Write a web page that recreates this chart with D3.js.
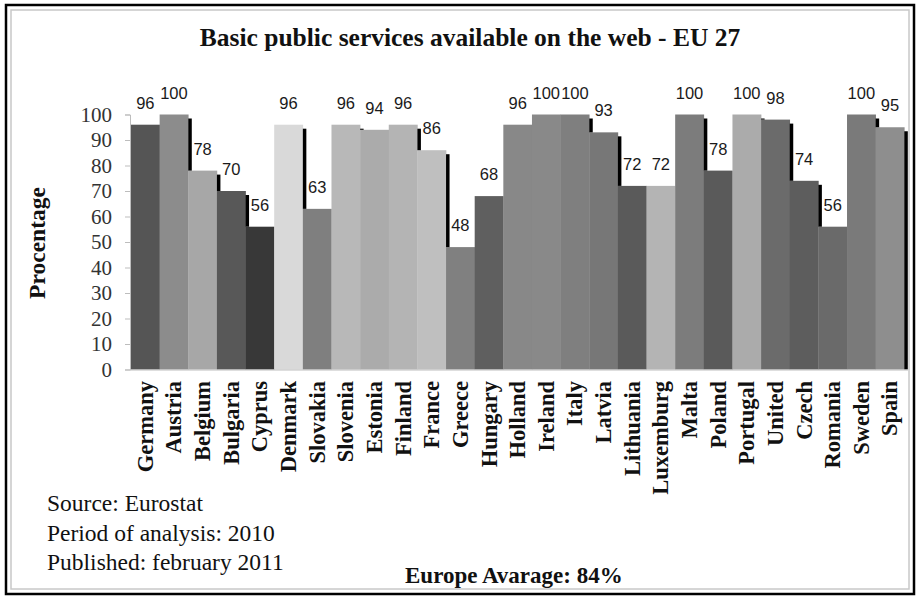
<!DOCTYPE html>
<html><head><meta charset="utf-8">
<script src="https://cdn.jsdelivr.net/npm/d3@7/dist/d3.min.js"></script>
<style>html,body{margin:0;padding:0;background:#fff;}svg{display:block;}</style>
</head><body>
<svg id="chart" width="920" height="599"></svg>
<script>
const categories = ["Germany","Austria","Belgium","Bulgaria","Cyprus","Denmark","Slovakia","Slovenia","Estonia","Finland","France","Greece","Hungary","Holland","Ireland","Italy","Latvia","Lithuania","Luxemburg","Malta","Poland","Portugal","United","Czech","Romania","Sweden","Spain"];
const values = [96,100,78,70,56,96,63,96,94,96,86,48,68,96,100,100,93,72,72,100,78,100,98,74,56,100,95];
const barColors = ["#555555","#8c8c8c","#a7a7a7","#585858","#383838","#d9d9d9","#7f7f7f","#b8b8b8","#ababab","#b4b4b4","#bfbfbf","#808080","#5f5f5f","#888888","#898989","#7f7f7f","#777777","#5a5a5a","#b4b4b4","#7c7c7c","#5a5a5a","#ababab","#6b6b6b","#5d5d5d","#6a6a6a","#7a7a7a","#8e8e8e"];
const yTicks = [0,10,20,30,40,50,60,70,80,90,100];
const titleText = "Basic public services available on the web - EU 27";
const yTitle = "Procentage";
const notes = ["Source: Eurostat","Period of analysis: 2010","Published: february 2011"];
const footer = "Europe Avarage: 84%";

const svg = d3.select("#chart");
const serif = "'Liberation Serif','Times New Roman',serif";
const sans = "'Liberation Sans',Arial,sans-serif";

// frame
svg.append("rect").attr("x",6).attr("y",5).attr("width",908).attr("height",589)
  .attr("fill","#fff").attr("stroke","#000").attr("stroke-width",2.5);
svg.append("rect").attr("x",11).attr("y",10).attr("width",898).attr("height",579)
  .attr("fill","none").attr("stroke","#c8c8c8").attr("stroke-width",1.5);

const x = d3.scaleBand().domain(categories).range([131, 904.3]).padding(0);
const y = d3.scaleLinear().domain([0,100]).range([369.5, 114.5]);
const bw = x.bandwidth();

// title
svg.append("text").attr("x",470).attr("y",46).attr("text-anchor","middle")
  .attr("font-family",serif).attr("font-weight","bold").attr("font-size",25.5)
  .attr("fill","#111").text(titleText);

// y axis
const yAxis = d3.axisLeft(y).tickValues(yTicks).tickSize(5).tickPadding(13);
const gy = svg.append("g").attr("transform","translate(130,0)").call(yAxis);
gy.attr("font-family",serif);
gy.select(".domain").attr("stroke","#bdbdbd");
gy.selectAll(".tick line").attr("stroke","#bdbdbd");
gy.selectAll(".tick text").attr("font-family",serif).attr("font-size",21).attr("fill","#333");

// bars
svg.append("g").selectAll("rect").data(values).join("rect")
  .attr("x",(d,i)=>x(categories[i]))
  .attr("y",d=>y(d))
  .attr("width",bw+0.3)
  .attr("height",d=>y(0)-y(d))
  .attr("fill",(d,i)=>barColors[i]);

// step lines (black edges where next bar is lower)
const steps = values.map((v,i)=>({i, top:v, next: i<values.length-1 ? values[i+1] : 0}))
  .filter(s=>s.top>s.next);
svg.append("g").selectAll("rect").data(steps).join("rect")
  .attr("x",s=>x(categories[s.i])+bw)
  .attr("y",s=>y(s.top)+4)
  .attr("width",3.5)
  .attr("height",s=>Math.max(0.8, y(s.next)-y(s.top)-4))
  .attr("fill","#000");

// x axis line
svg.append("line").attr("x1",130).attr("x2",908).attr("y1",y(0)+0.5).attr("y2",y(0)+0.5)
  .attr("stroke","#bdbdbd").attr("stroke-width",1);

// value labels
svg.append("g").selectAll("text").data(values).join("text")
  .attr("x",(d,i)=>x(categories[i])+bw/2)
  .attr("y",d=>y(d)-16)
  .attr("text-anchor","middle")
  .attr("font-family",sans).attr("font-size",16.5).attr("fill","#1a1a1a")
  .text(d=>d);

// category labels
svg.append("g").selectAll("text").data(categories).join("text")
  .attr("transform",d=>`translate(${x(d)+bw/2+7.5},381) rotate(-90)`)
  .attr("text-anchor","end")
  .attr("font-family",serif).attr("font-weight","bold").attr("font-size",22.5).attr("fill","#111")
  .text(d=>d);

// y title
svg.append("text").attr("transform","translate(45,243) rotate(-90)")
  .attr("text-anchor","middle").attr("font-family",serif).attr("font-weight","bold")
  .attr("font-size",23.5).attr("fill","#111").text(yTitle);

// notes
svg.append("g").selectAll("text").data(notes).join("text")
  .attr("x",47).attr("y",(d,i)=>511+i*29.5)
  .attr("font-family",serif).attr("font-size",23.5).attr("fill","#111").text(d=>d);

svg.append("text").attr("x",405).attr("y",583)
  .attr("font-family",serif).attr("font-weight","bold").attr("font-size",23).attr("fill","#111").text(footer);
</script>
</body></html>
